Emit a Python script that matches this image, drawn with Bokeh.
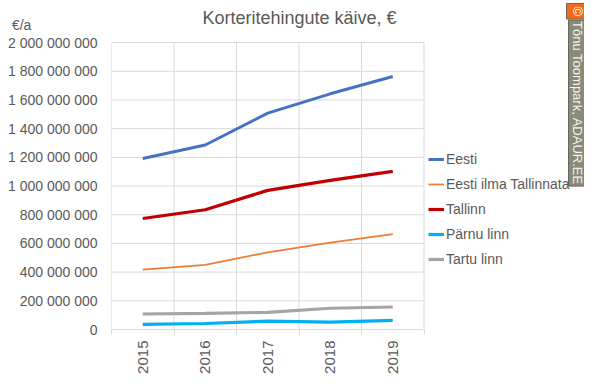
import math
from bokeh.plotting import figure
from bokeh.models import (Range1d, FixedTicker, Label, Legend, LegendItem, LinearAxis)
from bokeh.embed import file_html
from bokeh.resources import INLINE

years = [2015, 2016, 2017, 2018, 2019]
eesti = [1.192e9, 1.286e9, 1.508e9, 1.643e9, 1.764e9]
eesti_ilma = [0.418e9, 0.451e9, 0.538e9, 0.605e9, 0.665e9]
tallinn = [0.774e9, 0.835e9, 0.970e9, 1.040e9, 1.102e9]
parnu = [0.036e9, 0.042e9, 0.058e9, 0.052e9, 0.063e9]
tartu = [0.108e9, 0.112e9, 0.120e9, 0.148e9, 0.157e9]

series_names = ["Eesti", "Eesti ilma Tallinnata", "Tallinn", "Pärnu linn", "Tartu linn"]
y_ticks = [0, 200e6, 400e6, 600e6, 800e6, 1000e6, 1200e6, 1400e6, 1600e6, 1800e6, 2000e6]
y_tick_labels = ["0", "200 000 000", "400 000 000", "600 000 000", "800 000 000",
                 "1 000 000 000", "1 200 000 000", "1 400 000 000", "1 600 000 000",
                 "1 800 000 000", "2 000 000 000"]
title_text = "Korteritehingute käive, €"
unit_text = "€/a"
credit_mark = "©"
credit_text = "Tõnu Toompark, ADAUR.EE"

FONT = "Liberation Sans"
TXT = "#595959"
GRID = "#d9d9d9"

# ---- geometry (pixels in the canvas) ----
W, H = 584, 376
L, B = 111, 336          # frame left / frame bottom (frame spans to right edge and top)
Y_TOP_PX = 43            # pixel row of the 2e9 gridline
PX_PER_YEAR = 62.5
X0 = 2014.5
YMAX = 2e9
y_per_px = YMAX / (B - Y_TOP_PX)
x_end = X0 + (W - L) / PX_PER_YEAR
y_end = B * y_per_px


def dx(px):
    return X0 + (px - L) / PX_PER_YEAR


def dy(py):
    return (B - py) * y_per_px


p = figure(width=W, height=H, output_backend="svg", toolbar_location=None,
           x_range=Range1d(X0, x_end), y_range=Range1d(0, y_end),
           min_border_left=L, min_border_right=0, min_border_top=0, min_border_bottom=H - B,
           x_axis_location=None, y_axis_location=None)
p.outline_line_color = None
p.background_fill_color = "white"
p.border_fill_color = "white"
p.xgrid.visible = False
p.ygrid.visible = False

# y axis, with the unit text as an extra label at the top-left
unit_tick = 2.12e9
yax = LinearAxis(ticker=FixedTicker(ticks=y_ticks + [unit_tick]))
ov = {t: l for t, l in zip(y_ticks, y_tick_labels)}
ov[unit_tick] = unit_text + "\u00a0" * 17
yax.major_label_overrides = ov
yax.axis_line_color = None
yax.major_tick_line_color = None
yax.minor_tick_line_color = None
yax.major_label_text_font = FONT
yax.major_label_text_font_size = "14px"
yax.major_label_text_color = TXT
yax.major_label_standoff = 8
p.add_layout(yax, "left")

xb = [2014.5, 2015.5, 2016.5, 2017.5, 2018.5, 2019.5]
xax = LinearAxis(ticker=FixedTicker(ticks=years, minor_ticks=xb), bounds=(xb[0], xb[-1]))
xax.major_label_overrides = {y: str(y) for y in years}
xax.axis_line_color = GRID
xax.major_tick_line_color = None
xax.minor_tick_line_color = GRID
xax.minor_tick_in = 0
xax.minor_tick_out = 5
xax.major_label_orientation = math.pi / 2
xax.major_label_text_font = FONT
xax.major_label_text_font_size = "15px"
xax.major_label_text_color = TXT
xax.major_label_standoff = 5
p.add_layout(xax, "below")

# gridlines limited to the plot area
p.segment(x0=xb[0], x1=xb[-1], y0=y_ticks[1:], y1=y_ticks[1:], line_color=GRID,
          line_width=1, level="underlay")
p.segment(x0=xb, x1=xb, y0=0, y1=YMAX, line_color=GRID, line_width=1, level="underlay")

colors = ["#4472C4", "#ED7D31", "#C00000", "#00B0F0", "#A5A5A5"]
widths = [3, 1.8, 3.2, 3.2, 3.2]
data = [eesti, eesti_ilma, tallinn, parnu, tartu]
renderers = []
for d, c, w in zip(data, colors, widths):
    r = p.line(years, d, line_color=c, line_width=w)
    renderers.append(r)

legend = Legend(items=[LegendItem(label=n, renderers=[r]) for n, r in zip(series_names, renderers)],
                location=(317, 60), padding=0, margin=0, spacing=5, glyph_width=16,
                glyph_height=20, label_standoff=2, label_text_font=FONT,
                label_text_font_size="14px", label_text_color=TXT,
                border_line_color=None, background_fill_alpha=0)
p.add_layout(legend, "center")

p.add_layout(Label(x=dx(299), y=dy(18), text=title_text,
                   text_font=FONT, text_font_size="18px", text_color=TXT,
                   text_align="center", text_baseline="middle"))

# credit box (vertical, reading top to bottom)
p.add_layout(Label(x=dx(576.5), y=dy(3), text=credit_mark, angle=-math.pi / 2,
                   text_font=FONT, text_font_size="13px", text_color="white",
                   text_align="left", text_baseline="middle",
                   background_fill_color="#F26B1D", border_line_color="#66665c",
                   padding=3))
p.add_layout(Label(x=dx(576.5), y=dy(20), text=credit_text, angle=-math.pi / 2,
                   text_font=FONT, text_font_size="13px", text_color="#f4f4ee",
                   text_align="left", text_baseline="middle",
                   background_fill_color="#8a8a78", border_line_color="#66665c",
                   padding=1))

with open("out.html", "w") as f:
    f.write(file_html(p, INLINE))
